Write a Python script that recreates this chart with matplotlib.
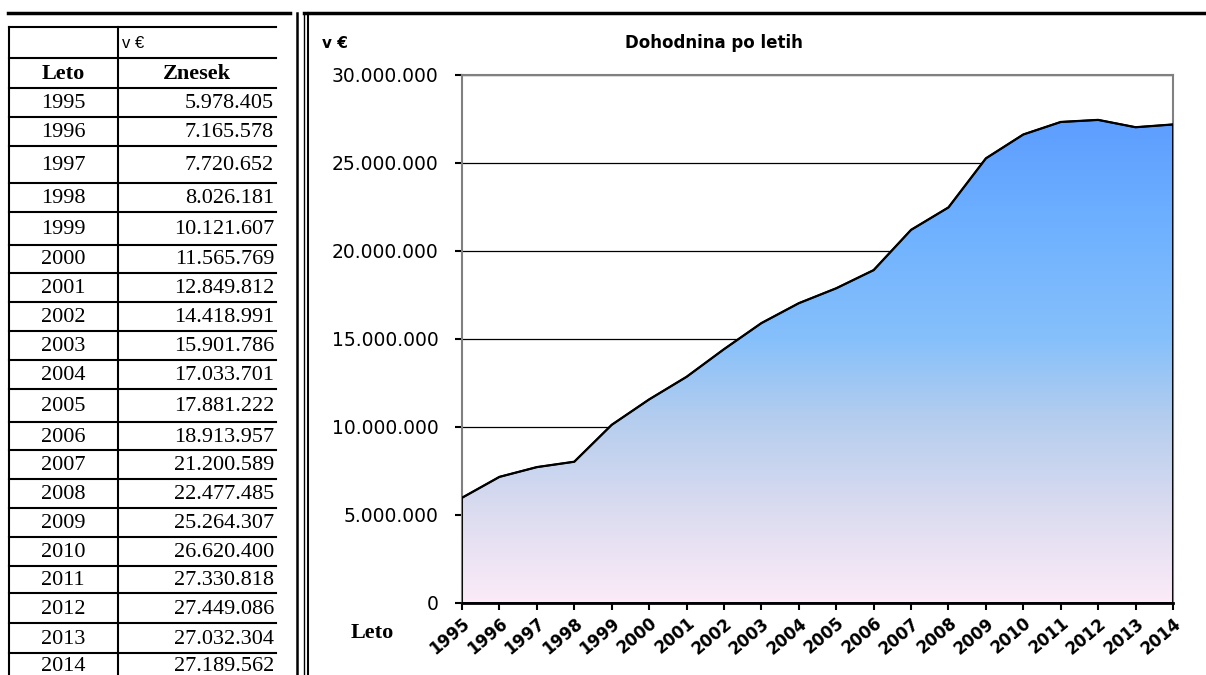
import numpy as np
import matplotlib
matplotlib.use("Agg")
import matplotlib.pyplot as plt
from matplotlib.colors import LinearSegmentedColormap
from matplotlib.lines import Line2D
from matplotlib.ticker import FuncFormatter, MultipleLocator

# podatki (dohodnina po letih, v €)
years = [1995, 1996, 1997, 1998, 1999, 2000, 2001, 2002, 2003, 2004,
         2005, 2006, 2007, 2008, 2009, 2010, 2011, 2012, 2013, 2014]
amounts = [5978405, 7165578, 7720652, 8026181, 10121607, 11565769, 12849812,
           14418991, 15901786, 17033701, 17881222, 18913957, 21200589,
           22477485, 25264307, 26620400, 27330818, 27449086, 27032304,
           27189562]
table_unit = "v €"
table_headers = ["Leto", "Znesek"]
chart_title = "Dohodnina po letih"
chart_unit = "v €"
x_label = "Leto"

W, H = 1206, 675


def fx(x):
    return x / W


def fy(y):
    return 1 - y / H


def dots(v):
    return f"{v:,.0f}".replace(",", ".")


def hline(fig, x0, x1, y, lw=1.5, color="black"):
    fig.add_artist(Line2D([fx(x0), fx(x1)], [fy(y), fy(y)], lw=lw, color=color))


def vline(fig, x, y0, y1, lw=1.5, color="black"):
    fig.add_artist(Line2D([fx(x), fx(x)], [fy(y0), fy(y1)], lw=lw, color=color))


fig = plt.figure(figsize=(W / 100, H / 100), dpi=100)

# okvirji
hline(fig, 8, 290, 13, lw=2.5)
hline(fig, 304, W, 13, lw=2.5)
vline(fig, 297, 13, H, lw=1.8)
vline(fig, 304, 13, H, lw=1.0)
vline(fig, 308, 13, H, lw=1.5)

# tabela
row_edges = [27, 58, 88, 117, 146, 183, 212, 245, 273, 302, 331, 360, 389,
             422, 450, 479, 508, 537, 566, 593, 623, 653, 678]
tx_left, tx_mid, tx_right = 9, 118, 276
vline(fig, tx_left, 27, H, lw=1.5)
vline(fig, tx_mid, 27, H, lw=1.5)
for y in row_edges[:-1]:
    hline(fig, tx_left, tx_right, y, lw=1.5)

serif = "Liberation Serif"
fig.text(fx(tx_mid + 4), fy((row_edges[0] + row_edges[1]) / 2 + 1), table_unit,
         family="Liberation Sans", fontsize=12, ha="left", va="center")
yc = (row_edges[1] + row_edges[2]) / 2 + 1
fig.text(fx(63), fy(yc), table_headers[0], family=serif, fontsize=16,
         fontweight="bold", ha="center", va="center")
fig.text(fx(197), fy(yc), table_headers[1], family=serif, fontsize=16,
         fontweight="bold", ha="center", va="center")
for i, (yr, val) in enumerate(zip(years, amounts)):
    yc = (row_edges[i + 2] + row_edges[i + 3]) / 2 + 1
    fig.text(fx(63), fy(yc), str(yr), family=serif, fontsize=16,
             ha="center", va="center")
    fig.text(fx(274), fy(yc), dots(val), family=serif, fontsize=16,
             ha="right", va="center")

# graf
ax_l, ax_r, ax_t, ax_b = 462, 1173, 75, 603
ax = fig.add_axes([fx(ax_l), fy(ax_b), (ax_r - ax_l) / W, (ax_b - ax_t) / H])
ymax = 30000000
ax.set_xlim(years[0], years[-1])
ax.set_ylim(0, ymax)

ax.yaxis.set_major_locator(MultipleLocator(5000000))
ax.yaxis.set_major_formatter(FuncFormatter(lambda v, p: dots(v)))
ax.grid(axis="y", color="black", lw=0.9)
ax.set_axisbelow(True)

cmap = LinearSegmentedColormap.from_list(
    "dohodnina",
    [(0.0, "#fcebf8"), (0.17, "#dcdcf0"), (0.35, "#b4cdee"),
     (0.5, "#86c0fb"), (0.7, "#70b2ff"), (0.9, "#5e9fff"), (1.0, "#5a9bff")])
grad = np.linspace(0, 1, 256).reshape(-1, 1)
img = ax.imshow(grad, cmap=cmap, origin="lower", aspect="auto",
                extent=[years[0], years[-1], 0, ymax], zorder=2)
poly = ax.fill_between(years, amounts, 0, facecolor="none",
                       edgecolor="black", lw=1.3, zorder=3)
img.set_clip_path(poly.get_paths()[0], transform=ax.transData)
ax.plot(years, amounts, color="black", lw=1.6, zorder=4)

for s in ["top", "right", "left"]:
    ax.spines[s].set_color("#808080")
    ax.spines[s].set_linewidth(1.5)
ax.spines["bottom"].set_color("black")
ax.spines["bottom"].set_linewidth(2)
ax.spines["bottom"].set_zorder(5)

ax.set_xticks(years)
ax.set_xticklabels([str(y) for y in years], rotation=40, ha="right",
                   va="top", rotation_mode="anchor", fontsize=12,
                   fontweight="bold", family="DejaVu Sans")
ax.tick_params(axis="x", direction="out", length=5, width=1.5, pad=3,
               colors="black")
ax.tick_params(axis="y", direction="out", length=5, width=1.5, pad=12,
               labelsize=13.5, colors="black")
for lab in ax.get_yticklabels():
    lab.set_family("DejaVu Sans")

fig.text(fx(322), fy(43), chart_unit, fontsize=11, fontweight="bold",
         ha="left", va="center", family="DejaVu Sans")
fig.text(fx(714), fy(43), chart_title, fontsize=12, fontweight="bold",
         ha="center", va="center", family="DejaVu Sans")
fig.text(fx(372), fy(633), x_label, fontsize=16, fontweight="bold",
         ha="center", va="center", family=serif)

fig.savefig("out.png", dpi=100)
